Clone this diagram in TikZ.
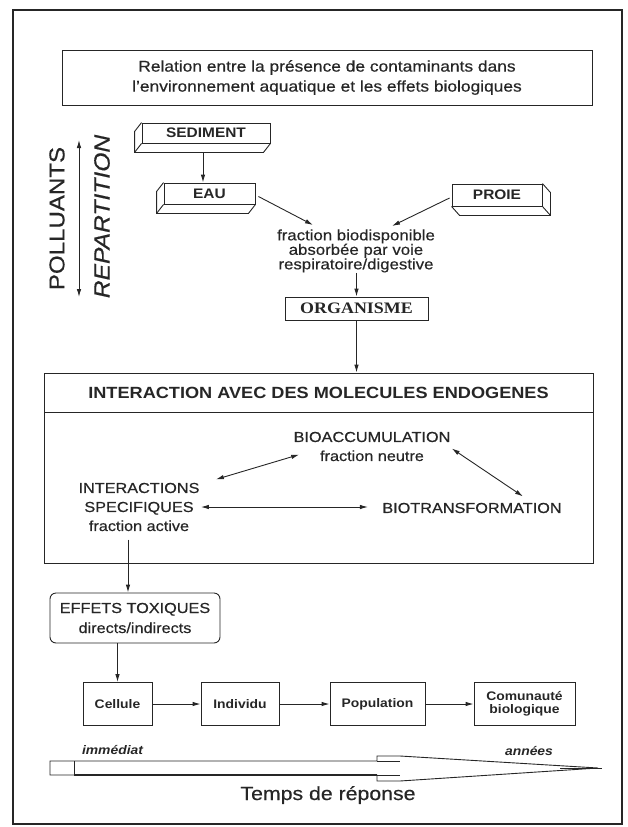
\documentclass[tikz,border=0pt]{standalone}
\usepackage{fontspec}
\setmainfont{Liberation Sans}[FakeStretch=1.12, UprightFeatures={FakeBold=0.5}, ItalicFeatures={FakeBold=0.5}]
\newfontfamily\orgfont{Liberation Serif}[FakeStretch=1.12]
\usetikzlibrary{arrows.meta,positioning}

\begin{document}
\begin{tikzpicture}[
    x=1pt, y=-1pt,
    line width=0.9pt, color=black!85,
    box/.style={draw, inner sep=0pt, align=center},
    slab/.style={box, font=\bfseries\fontsize{13.8}{16}\selectfont},
    lbl/.style={inner sep=0pt, align=center, font=\fontsize{14.5}{19}\selectfont},
    lvl/.style={box, minimum height=43, font=\bfseries\fontsize{12.4}{13}\selectfont},
    tick/.style={inner sep=0pt, font=\bfseries\itshape\fontsize{12.4}{14}\selectfont},
    arr/.style={-{Latex[length=8pt,width=4.5pt]}},
    dbl/.style={{Latex[length=8pt,width=4.5pt]}-{Latex[length=8pt,width=4.5pt]}},
]
\useasboundingbox (0,0) rectangle (627,827);
\draw[line width=1.3pt] (13,10) rectangle (622,824);

% titre
\node[box, minimum width=530, minimum height=55, font=\fontsize{15.5}{20}\selectfont] (title) at (327,77.5)
    {Relation entre la présence de contaminants dans\\l'environnement aquatique et les effets biologiques};

% compartiments
\node[slab, minimum width=128, minimum height=20] (sed) at (206,133) {SEDIMENT};
\node[slab, minimum width=91, minimum height=21] (eau) at (209.5,193.5) {EAU};
\node[slab, minimum width=90, minimum height=22] (proie) at (497,195) {PROIE};
\foreach \n in {sed,eau}{
    \draw (\n.north west) -- ++(-7,9) |- ([shift={(-7,9)}]\n.south east) -- (\n.south east);
    \draw (\n.south west) -- ++(-7,9);
}
\draw (proie.north east) -- ++(8,9) |- ([shift={(8,9)}]proie.south west) -- (proie.south west);
\draw (proie.south east) -- ++(8,9);
\draw[arr] ([shift={(-3,9)}]sed.south) -- ([xshift=-3pt]sed.south |- eau.north);

% repartition
\node[rotate=90, inner sep=0pt, font=\fontsize{21.5}{24}\selectfont] (poll) at (57,218.5) {POLLUANTS};
\node[rotate=90, inner sep=0pt, font=\itshape\fontsize{22}{24}\selectfont] (rep) at (102,216.5) {REPARTITION};
\coordinate (rtop) at (79,140);
\coordinate (rbot) at (79,297);
\draw[dbl] (rtop) -- (rbot);

% absorption
\node[lbl, anchor=north, font=\fontsize{15}{14.5}\selectfont] (frac) at (356,229)
    {fraction biodisponible\\absorbée par voie\\respiratoire/digestive};
\draw[arr] ([shift={(3,3)}]eau.east) -- ([shift={(-43,-4)}]frac.north);
\draw[arr] ([shift={(-2,3)}]proie.west) -- ([shift={(36,-3)}]frac.north);
\node[box, minimum width=143, minimum height=23, font=\orgfont\bfseries\fontsize{16}{18}\selectfont] (org) at (356.5,308.5) {ORGANISME};
\draw[arr] (org.north |- frac.south) -- (org.north);

% interaction
\node[box, minimum width=549, minimum height=39, font=\bfseries\fontsize{16.2}{18}\selectfont] (ihead) at (318.5,392.5)
    {INTERACTION AVEC DES MOLECULES ENDOGENES};
\node[box, minimum width=549, minimum height=151, below=0pt of ihead] (ibody) {};
\draw[arr] (org.south) -- (org.south |- ihead.north);
\node[lbl] (bio) at (372,446.5) {BIOACCUMULATION\\fraction neutre};
\node[lbl] (spec) at (139,507) {INTERACTIONS\\SPECIFIQUES\\fraction active};
\node[lbl] (biot) at (472,508) {BIOTRANSFORMATION};
\draw[dbl] ([shift={(16,-3)}]spec.north east) -- ([shift={(6,-7)}]bio.south west);
\draw[dbl] ([shift={(1,2)}]bio.east) -- ([shift={(51,-6)}]biot.north);
\draw[dbl] ([xshift=1pt]spec.east) -- ([xshift=-14pt]biot.west |- spec.east);

% effets
\node[box, rounded corners=6pt, minimum width=170, minimum height=50, font=\fontsize{14.5}{20}\selectfont] (eff) at (135,618)
    {EFFETS TOXIQUES\\directs/indirects};
\draw[arr] ([shift={(-11,8)}]spec.south) -- ([xshift=-11pt]spec.south |- eff.north);

% niveaux
\node[lvl, minimum width=69] (cell) at (117.5,704) {Cellule};
\node[lvl, minimum width=78] (indiv) at (240,704) {Individu};
\node[lvl, minimum width=95] (pop) at (377.5,704) {Population};
\node[lvl, minimum width=101] (comm) at (524.5,704) {Comunauté\\biologique};
\draw[arr] (cell.north |- eff.south) -- (cell.north);
\draw[arr] (cell) -- (indiv);
\draw[arr] (indiv) -- (pop);
\draw[arr] (pop) -- (comm);

% temps
\draw (50,761) -- (377,761) -- (377,756) -- (400,756) -- (598,768) -- (400,781) -- (377,781) -- (377,775) -- (50,775) -- cycle;
\draw (74,761) -- (74,775);
\draw (377,761) -- (400,761) (377,775) -- (400,775);
\draw[line width=1.5pt] (74,775) -- (377,775);
\draw (560,768) -- (602,768);
\node[tick] (imm) at (112.5,750) {immédiat};
\node[tick] (ans) at (529,751) {années};
\node[inner sep=0pt, font=\fontsize{19}{22}\selectfont] (temps) at (328,795) {Temps de réponse};
\end{tikzpicture}
\end{document}
